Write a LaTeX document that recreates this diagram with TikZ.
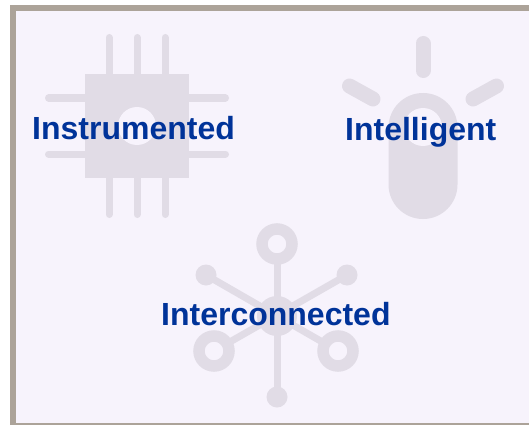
\documentclass[tikz,border=0pt]{standalone}
\usepackage{fontspec}
\setmainfont{Liberation Sans}
\definecolor{panelbg}{HTML}{F7F3FC}
\definecolor{icongray}{HTML}{E1DCE6}
\definecolor{framegray}{HTML}{ACA399}
\definecolor{labelblue}{HTML}{003399}
\tikzset{
  pin/.style={draw=icongray,line width=7pt,line cap=round},
  ray/.style={draw=icongray,line width=15pt,line cap=round},
  spoke/.style={draw=icongray,line width=7pt},
  solidicon/.style={fill=icongray,draw=none},
  ring/.style={draw=icongray,line width=11.5pt,fill=panelbg},
  label/.style={font=\fontsize{32pt}{36pt}\selectfont\bfseries,text=labelblue,anchor=base west,inner sep=0pt}
}
\begin{document}
\begin{tikzpicture}[x=1pt,y=-1pt]
\useasboundingbox (0,0) rectangle (529,425);
\fill[white] (0,0) rectangle (529,425);
\fill[framegray] (10,5) rectangle (529,425);
\fill[panelbg] (16,11) rectangle (529,423);
% chip
\foreach \x in {109,137,165}{
  \draw[pin] (\x,37.5) -- (\x,80);
  \draw[pin] (\x,172) -- (\x,214.5);
}
\foreach \y in {98,154}{
  \draw[pin] (48.5,\y) -- (90,\y);
  \draw[pin] (184,\y) -- (225.5,\y);
}
\fill[solidicon] (85,74) rectangle (189,178);
\fill[panelbg] (137,126) circle (19);
% bulb
\draw[ray] (423,43.5) -- (423,70.5);
\draw[ray] (349.5,86) -- (373,99);
\draw[ray] (496.5,86) -- (473,99);
\fill[solidicon] (388.5,127.5) arc (180:360:34.5) -- (457.5,184.5) arc (0:180:34.5) -- cycle;
\fill[panelbg] (423,127) circle (19);
% network
\draw[spoke] (277,244) -- (277,397);
\draw[spoke] (206,275) -- (338,351);
\draw[spoke] (347,275) -- (214,351);
\fill[solidicon] (277,316) circle (20);
\fill[solidicon] (206,275) circle (10.5);
\fill[solidicon] (347,275) circle (10.5);
\fill[solidicon] (277,397) circle (10.5);
\draw[ring] (277,244) circle (15);
\draw[ring] (214,351) circle (15);
\draw[ring] (338,351) circle (15);
% labels
\node[label] (instrumented) at (32,139.5) {Instrumented};
\node[label] (intelligent) at (345,140.5) {Intelligent};
\node[label] (interconnected) at (161,325) {Interconnected};
\end{tikzpicture}
\end{document}
